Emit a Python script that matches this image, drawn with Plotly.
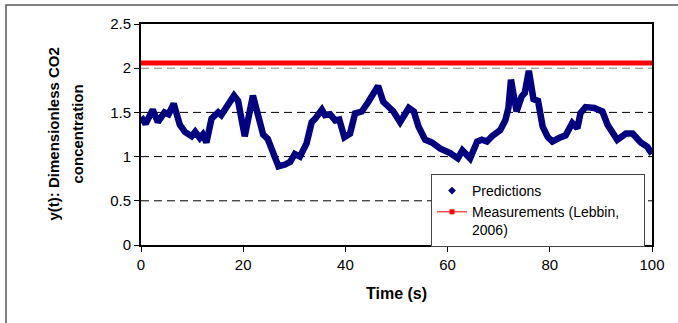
import plotly.graph_objects as go

# Model predictions of dimensionless CO2 concentration over time
time_s = [0, 0.9, 2.3, 3.3, 4.6, 5.4, 6.4, 7.6, 8.6, 9.9, 10.6, 11.5, 12.1, 12.8,
          13.8, 15.1, 15.7, 16.7, 18.2, 19.0, 20.3, 21.9, 23.9, 24.8, 25.6, 26.9,
          28.2, 29.2, 30.1, 31.1, 32.4, 33.4, 34.1, 35.4, 36.0, 37.0, 38.0, 38.8,
          39.8, 40.9, 41.9, 43.2, 44.5, 46.4, 47.4, 49.4, 50.7, 52.4, 53.4, 54.3,
          55.6, 56.9, 58.6, 60.5, 62.0, 62.9, 64.4, 65.8, 66.7, 67.7, 68.7, 70.3,
          71.3, 71.9, 72.4, 73.5, 74.5, 75.1, 75.9, 76.8, 77.7, 78.6, 79.6, 80.5,
          81.8, 83.1, 84.4, 85.4, 86.0, 87.0, 88.7, 90.3, 91.3, 93.2, 94.9, 96.2,
          97.8, 99.1, 100]
predictions = [1.45, 1.37, 1.53, 1.39, 1.50, 1.48, 1.60, 1.36, 1.28, 1.23, 1.28, 1.21,
               1.25, 1.16, 1.43, 1.50, 1.47, 1.56, 1.69, 1.63, 1.23, 1.69, 1.25, 1.20,
               1.07, 0.89, 0.91, 0.94, 1.03, 1.00, 1.15, 1.39, 1.43, 1.53, 1.47, 1.48,
               1.41, 1.42, 1.22, 1.26, 1.49, 1.51, 1.62, 1.80, 1.62, 1.51, 1.39, 1.55,
               1.51, 1.34, 1.19, 1.16, 1.09, 1.04, 0.98, 1.07, 0.98, 1.17, 1.19, 1.17,
               1.23, 1.30, 1.41, 1.55, 1.87, 1.51, 1.68, 1.72, 1.97, 1.65, 1.63, 1.34,
               1.22, 1.17, 1.21, 1.24, 1.38, 1.32, 1.49, 1.56, 1.55, 1.51, 1.36, 1.19,
               1.26, 1.26, 1.16, 1.11, 1.03]

# Measured value (Lebbin, 2006)
meas_time = [0, 100]
measurements = [2.06, 2.06]

y_ticks = [0, 0.5, 1, 1.5, 2, 2.5]
y_tick_text = ["0", "0.5", "1", "1.5", "2", "2.5"]
x_ticks = [0, 20, 40, 60, 80, 100]
grid_levels = [0.5, 1, 1.5, 2]
y_title_lines = ["y(t): Dimensionless CO2", "concentration"]

NAVY = "#000080"
RED = "#FF0000"
FONT = "Liberation Sans, Arial, sans-serif"
PAD = "\u00a0" * 5  # keeps the legend box as wide as the plot's right edge

# plot-area geometry in pixels
W, H = 678, 323
L, R, T, B = 141, 26, 24, 78
PW, PH = W - L - R, H - T - B


def px_x(p):
    return (p - L) / PW


def px_y(p):
    return (H - B - p) / PH


fig = go.Figure()

# thick prediction curve
fig.add_trace(go.Scatter(
    x=time_s, y=predictions, mode="lines",
    line=dict(color=NAVY, width=6.5), showlegend=False, hoverinfo="skip"))
# measured level
fig.add_trace(go.Scatter(
    x=meas_time, y=measurements, mode="lines",
    line=dict(color=RED, width=5), showlegend=False, hoverinfo="skip"))

# legend entries
fig.add_trace(go.Scatter(
    x=[None], y=[None], mode="markers", name="Predictions",
    marker=dict(symbol="diamond", color=NAVY, size=6), legendgroup="a"))
fig.add_trace(go.Scatter(
    x=[None], y=[None], mode="lines+markers",
    name="Measurements (Lebbin," + PAD + "<br>2006)",
    line=dict(color=RED, width=1), marker=dict(symbol="square", color=RED, size=5),
    legendgroup="b"))

# dashed horizontal gridlines
for g in grid_levels:
    fig.add_shape(type="line", xref="paper", yref="y", x0=0, x1=1, y0=g, y1=g,
                  line=dict(color="#808080" if g == 2 else "black", width=1,
                            dash="8px,5px"), layer="below")

# outer frame around the whole chart
fig.add_shape(type="rect", xref="paper", yref="paper",
              x0=px_x(6), x1=px_x(700), y0=px_y(340), y1=px_y(5),
              line=dict(color="#555555", width=1.5), fillcolor="rgba(0,0,0,0)")

# two-line rotated y-axis title
for xp, line in zip([53, 77], y_title_lines):
    fig.add_annotation(text=f"<b>{line}</b>", xref="paper", yref="paper",
                       x=px_x(xp), y=0.5, textangle=-90, showarrow=False,
                       xanchor="center", yanchor="middle",
                       font=dict(family=FONT, size=15, color="black"))

fig.update_layout(
    width=W, height=H,
    margin=dict(l=L, r=R, t=T, b=B),
    paper_bgcolor="white", plot_bgcolor="white",
    font=dict(family=FONT, size=15, color="black"),
    showlegend=True,
    legend=dict(x=px_x(431), y=px_y(174), xanchor="left", yanchor="top",
                bgcolor="white", bordercolor="#444444", borderwidth=1,
                font=dict(family=FONT, size=14), valign="top", tracegroupgap=0),
    xaxis=dict(range=[0, 100], tickvals=x_ticks, ticks="outside", ticklen=5,
               tickcolor="black", showgrid=False, zeroline=False,
               showline=True, linecolor="black", linewidth=2, mirror=True,
               tickfont=dict(size=15),
               title=dict(text="<b>Time (s)</b>", font=dict(size=16), standoff=16)),
    yaxis=dict(range=[0, 2.5], tickvals=y_ticks, ticktext=y_tick_text,
               ticks="outside", ticklen=5, tickcolor="black",
               showgrid=False, zeroline=False,
               showline=True, linecolor="black", linewidth=2, mirror=True,
               tickfont=dict(size=15)),
)

fig.write_html("out.html")
